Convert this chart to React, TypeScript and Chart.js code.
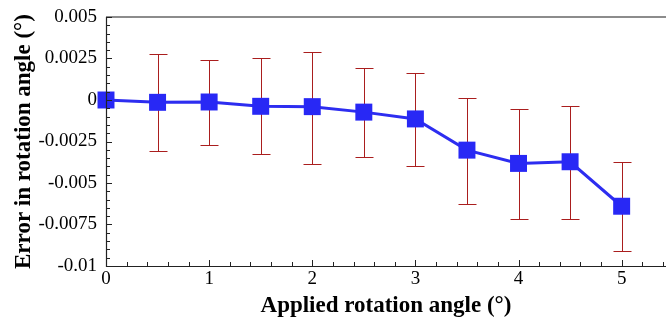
import React, { useEffect, useRef } from "react";
import { Chart, registerables } from "chart.js";

Chart.register(...registerables);
Chart.defaults.font.family = "'Liberation Serif', 'Times New Roman', serif";

const angles = [0, 0.5, 1, 1.5, 2, 2.5, 3, 3.5, 4, 4.5, 5];
const meanError = [0, -0.00014, -0.00012, -0.00038, -0.0004, -0.00073, -0.00114, -0.00302, -0.00382, -0.00372, -0.0064];
const errTop = [0, 0.00276, 0.0024, 0.00254, 0.00292, 0.0019, 0.00164, 0.00012, -0.00056, -0.00036, -0.00372];
const errBottom = [0, -0.00308, -0.00274, -0.00324, -0.00384, -0.00346, -0.00396, -0.00628, -0.00716, -0.00716, -0.00912];
const xTicks = [0, 1, 2, 3, 4, 5];
const yTicks = [-0.01, -0.0075, -0.005, -0.0025, 0, 0.0025, 0.005];
const yTickLabels = ["-0.01", "-0.0075", "-0.005", "-0.0025", "0", "0.0025", "0.005"];

const SERIF = "'Liberation Serif', 'Times New Roman', serif";

const errorBarPlugin = {
  id: "errorBars",
  beforeDatasetsDraw(chart: any) {
    const { ctx, scales } = chart;
    const xs = scales.x;
    const ys = scales.y;
    ctx.save();
    ctx.strokeStyle = "rgb(170,30,30)";
    ctx.lineWidth = 1;
    for (let i = 0; i < angles.length; i++) {
      if (errTop[i] === errBottom[i]) continue;
      const px = Math.round(xs.getPixelForValue(angles[i])) + 0.5;
      const pt = Math.round(ys.getPixelForValue(errTop[i])) + 0.5;
      const pb = Math.round(ys.getPixelForValue(errBottom[i])) + 0.5;
      ctx.beginPath();
      ctx.moveTo(px, pt);
      ctx.lineTo(px, pb);
      ctx.moveTo(px - 9, pt);
      ctx.lineTo(px + 9, pt);
      ctx.moveTo(px - 9, pb);
      ctx.lineTo(px + 9, pb);
      ctx.stroke();
    }
    ctx.restore();
  },
};

const framePlugin = {
  id: "frame",
  afterDatasetsDraw(chart: any) {
    const { ctx, chartArea, scales } = chart;
    const { left, right, top, bottom } = chartArea;
    const xs = scales.x;
    const ys = scales.y;
    ctx.save();
    ctx.strokeStyle = "#666";
    ctx.lineWidth = 1.5;
    ctx.beginPath();
    ctx.moveTo(left, top);
    ctx.lineTo(right, top);
    ctx.stroke();
    ctx.strokeStyle = "#222";
    ctx.lineWidth = 1.2;
    ctx.beginPath();
    ctx.moveTo(left + 0.5, top);
    ctx.lineTo(left + 0.5, bottom + 0.5);
    ctx.lineTo(right, bottom + 0.5);
    ctx.stroke();
    ctx.lineWidth = 1;
    ctx.beginPath();
    for (let k = 0; k * 0.2 <= xs.max + 1e-9; k++) {
      const v = k * 0.2;
      const px = Math.round(xs.getPixelForValue(v)) + 0.5;
      const len = k % 5 === 0 ? 6 : 4;
      ctx.moveTo(px, bottom);
      ctx.lineTo(px, bottom - len);
    }
    for (let k = 0; k <= 30; k++) {
      const v = -0.01 + k * 0.0005;
      const py = Math.round(ys.getPixelForValue(v)) + 0.5;
      const len = k % 5 === 0 ? 6 : 4;
      ctx.moveTo(left, py);
      ctx.lineTo(left + len, py);
    }
    ctx.stroke();
    ctx.restore();
  },
};

export default function App() {
  const canvasRef = useRef<HTMLCanvasElement | null>(null);

  useEffect(() => {
    const canvas = canvasRef.current;
    if (!canvas) return;
    const chart = new Chart(canvas, {
      type: "line",
      data: {
        datasets: [
          {
            data: angles.map((a, i) => ({ x: a, y: meanError[i] })),
            borderColor: "rgb(45,45,240)",
            backgroundColor: "rgb(40,40,245)",
            borderWidth: 3,
            pointStyle: "rect",
            pointRadius: 12,
            pointBorderWidth: 0,
            pointBackgroundColor: "rgb(40,40,245)",
            tension: 0,
            clip: false as any,
          },
        ],
      },
      options: {
        animation: false,
        responsive: false,
        maintainAspectRatio: false,
        layout: { autoPadding: false, padding: { top: 17, right: 0, left: 0, bottom: 0 } },
        plugins: { legend: { display: false }, tooltip: { enabled: false } },
        scales: {
          x: {
            type: "linear",
            min: 0,
            max: 5.43,
            grid: { display: false, drawTicks: false },
            border: { display: false },
            afterBuildTicks: (scale: any) => {
              scale.ticks = xTicks.map((v) => ({ value: v }));
            },
            afterFit: (scale: any) => {
              scale.height = 59;
              scale.paddingLeft = 0;
              scale.paddingRight = 0;
            },
            ticks: {
              color: "#000",
              padding: 2,
              maxRotation: 0,
              autoSkip: false,
              font: { family: SERIF, size: 19 },
              callback: (v: any) => String(v),
            },
            title: {
              display: true,
              text: "Applied rotation angle (°)",
              color: "#000",
              padding: { top: 0, bottom: 5 },
              font: { family: SERIF, size: 23, weight: "bold" },
            },
          },
          y: {
            type: "linear",
            min: -0.01,
            max: 0.005,
            grid: { display: false, drawTicks: false },
            border: { display: false },
            afterBuildTicks: (scale: any) => {
              scale.ticks = yTicks.map((v) => ({ value: v }));
            },
            afterFit: (scale: any) => {
              scale.width = 106;
              scale.paddingTop = 0;
              scale.paddingBottom = 0;
            },
            ticks: {
              color: "#000",
              padding: 9,
              autoSkip: false,
              font: { family: SERIF, size: 19 },
              callback: (v: any) => {
                const i = yTicks.findIndex((t) => Math.abs(t - Number(v)) < 1e-9);
                return i >= 0 ? yTickLabels[i] : "";
              },
            },
            title: {
              display: true,
              text: "Error in rotation angle (°)",
              color: "#000",
              padding: { top: 10, bottom: 0 },
              font: { family: SERIF, size: 23, weight: "bold" },
            },
          },
        },
      },
      plugins: [errorBarPlugin, framePlugin],
    } as any);
    return () => chart.destroy();
  }, []);

  return (
    <div style={{ position: "fixed", left: 0, top: 0, width: 666, height: 325, background: "#fff" }}>
      <canvas ref={canvasRef} width={666} height={325} style={{ width: 666, height: 325 }} />
    </div>
  );
}
